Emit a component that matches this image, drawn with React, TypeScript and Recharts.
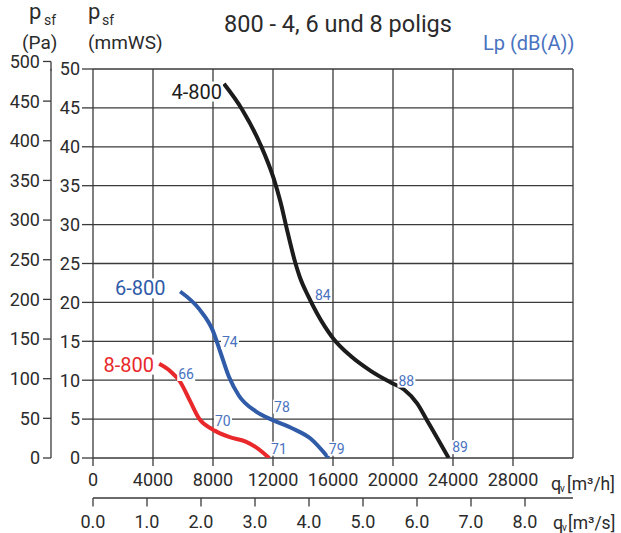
import React from "react";
import { ComposedChart, Line, Scatter, XAxis, YAxis, CartesianGrid } from "recharts";

// axis ticks
const FLOW_H_TICKS = [0, 4000, 8000, 12000, 16000, 20000, 24000, 28000, 32000];
const FLOW_S_TICKS = [0, 1, 2, 3, 4, 5, 6, 7, 8];
const MMWS_TICKS = [0, 5, 10, 15, 20, 25, 30, 35, 40, 45, 50];
const PA_TICKS = [0, 50, 100, 150, 200, 250, 300, 350, 400, 450, 500];

// 4-800 (m3/h, mmWS)
const flow4 = [8730, 9940, 11160, 12050, 12500, 12950, 13500, 13780, 14350, 14930, 16000, 17180, 18510, 19850, 20730, 21620, 22280, 22940, 23710];
const press4 = [48.1, 44.8, 40.3, 35.9, 32.9, 29.2, 25.0, 23.3, 20.8, 18.6, 15.4, 13.1, 11.2, 9.7, 8.8, 7.0, 4.8, 2.6, 0];

// 6-800
const flow6 = [5810, 7100, 7960, 8510, 9070, 9730, 10850, 11950, 13300, 14500, 15700];
const press6 = [21.4, 19.1, 16.5, 13.5, 10.4, 8.0, 6.0, 4.9, 3.8, 2.5, 0];

// 8-800
const flow8 = [4410, 5190, 5810, 6450, 7100, 7960, 9070, 10180, 10850, 11750];
const press8 = [12.1, 11.1, 9.8, 7.4, 5.0, 3.7, 2.7, 2.1, 1.4, 0];

// curve names
const curveNames = ["4-800", "6-800", "8-800"];
const nameFlow = [8600, 4840, 4060];
const namePress = [47.1, 21.8, 12.0];

// sound pressure level marks Lp dB(A)
const lpText = ["84", "74", "66", "78", "70", "71", "79", "88", "89"];
const lpFlow = [14800, 8600, 5680, 12070, 8130, 11870, 15720, 20360, 23950];
const lpPress = [21.0, 14.9, 10.8, 6.6, 4.7, 1.2, 1.2, 9.95, 1.4];

const M3H_PER_M3S = 3600;

const FONT = "Roboto, 'DejaVu Sans', sans-serif";
const TEXT = "#2b2b2b";
const GRID = "#3a3a3a";
const BLACK = "#1c1c1c";
const BLUE = "#2f5ba8";
const RED = "#e8282b";
const LABEL_BLUE = "#4a72c0";
const NAME_COLORS = [BLACK, BLUE, RED];

const zip = (xs: number[], ys: number[]) => xs.map((x, i) => ({ x, y: ys[i] }));

const curve4 = zip(flow4, press4);
const curve6 = zip(flow6, press6);
const curve8 = zip(flow8, press8);
const names = curveNames.map((t, i) => ({ x: nameFlow[i], y: namePress[i], t, c: NAME_COLORS[i] }));
const lpMarks = lpText.map((t, i) => ({ x: lpFlow[i], y: lpPress[i], t }));

const tickStyle = { fontFamily: FONT, fontSize: 18, fill: TEXT };

const PaTick = (props: any) => {
  const { x, y, payload } = props;
  return (
    <g>
      <text x={x} y={y} dy="0.355em" textAnchor="end" fontFamily={FONT} fontSize={18} fill={TEXT}>
        {payload.value}
      </text>
      {payload.value === 500 && (
        <line x1={x + 11} x2={x + 11} y1={y} y2={y + 9} stroke={GRID} strokeWidth={1.3} />
      )}
    </g>
  );
};

// m3/h ticks: own tick line so the right border gets none
const FlowTick = (props: any) => {
  const { x, y, payload } = props;
  if (payload.value === 32000) return null;
  return (
    <g>
      <line x1={x} x2={x} y1={y - 15} y2={y - 7} stroke={GRID} strokeWidth={1.3} />
      <text x={x} y={y} dy="0.71em" textAnchor="middle" fontFamily={FONT} fontSize={18} fill={TEXT}>
        {payload.value}
      </text>
    </g>
  );
};

const NameShape = (p: any) => {
  const w = p.payload.t.length * 20 * 0.52;
  return (
    <g>
      <rect x={p.cx - w - 1} y={p.cy - 10} width={w + 2} height={20} fill="#fff" />
      <text x={p.cx} y={p.cy} dy="0.355em" textAnchor="end" fontFamily={FONT} fontSize={20} fill={p.payload.c}>
        {p.payload.t}
      </text>
    </g>
  );
};

const LpShape = (p: any) => (
  <g>
    <rect x={p.cx - 1} y={p.cy - 7} width={18} height={14} fill="#fff" />
    <text x={p.cx} y={p.cy} dy="0.355em" textAnchor="start" fontFamily={FONT} fontSize={14} fill={LABEL_BLUE}>
      {p.payload.t}
    </text>
  </g>
);

export default function App() {
  return (
    <div style={{ position: "absolute", left: 0, top: 0, width: 621, height: 533, background: "#fff" }}>
      <ComposedChart width={621} height={533} margin={{ top: 69, right: 48, bottom: 0, left: 0 }}>
        <CartesianGrid xAxisId="h" yAxisId="mm" stroke={GRID} strokeWidth={1.3} />
        <XAxis xAxisId="h" type="number" dataKey="x" domain={[0, 32000]} ticks={FLOW_H_TICKS} interval={0}
          allowDataOverflow axisLine={false} tickLine={false} tickSize={8} tickMargin={7} height={40}
          tick={<FlowTick />} />
        {/* m3/s scale sits on the same flow domain, 1 m3/s = 3600 m3/h */}
        <XAxis xAxisId="s" type="number" dataKey="x" domain={[0, 32000]}
          ticks={FLOW_S_TICKS.map((v) => v * M3H_PER_M3S)} interval={0}
          allowDataOverflow tickSize={8.5} tickMargin={9} height={35}
          axisLine={{ stroke: GRID, strokeWidth: 1.3 }} tickLine={{ stroke: GRID, strokeWidth: 1.3 }}
          tick={tickStyle} tickFormatter={(v) => (Number(v) / M3H_PER_M3S).toFixed(1)} />
        <YAxis yAxisId="mm" type="number" dataKey="y" domain={[0, 50]} ticks={MMWS_TICKS} interval={0}
          allowDataOverflow axisLine={false} tickSize={11} tickMargin={2} width={42}
          tickLine={{ stroke: GRID, strokeWidth: 1.3 }} tick={tickStyle} />
        <YAxis yAxisId="pa" type="number" domain={[0, 490.5]} ticks={PA_TICKS} interval={0}
          allowDataOverflow tickSize={8} tickMargin={3} width={51}
          axisLine={{ stroke: GRID, strokeWidth: 1.3 }} tickLine={{ stroke: GRID, strokeWidth: 1.3 }}
          tick={<PaTick />} />
        <Scatter xAxisId="h" yAxisId="mm" data={names} shape={<NameShape />} isAnimationActive={false} />
        <Scatter xAxisId="h" yAxisId="mm" data={lpMarks} shape={<LpShape />} isAnimationActive={false} />
        <Line xAxisId="h" yAxisId="mm" data={curve4} dataKey="y" type="monotone" stroke={BLACK}
          strokeWidth={4} dot={false} isAnimationActive={false} />
        <Line xAxisId="h" yAxisId="mm" data={curve6} dataKey="y" type="monotone" stroke={BLUE}
          strokeWidth={4} dot={false} isAnimationActive={false} />
        <Line xAxisId="h" yAxisId="mm" data={curve8} dataKey="y" type="monotone" stroke={RED}
          strokeWidth={4} dot={false} isAnimationActive={false} />
      </ComposedChart>
      <svg width={621} height={533} style={{ position: "absolute", left: 0, top: 0, pointerEvents: "none" }}
        fontFamily={FONT} fill={TEXT}>
        <text x={338} y={32} fontSize={23.5} textAnchor="middle">800 - 4, 6 und 8 poligs</text>
        <text x={29} y={19} fontSize={22}>p</text>
        <text x={44} y={25} fontSize={14}>sf</text>
        <text x={22} y={49} fontSize={19}>(Pa)</text>
        <text x={88} y={19} fontSize={22}>p</text>
        <text x={102} y={25} fontSize={14}>sf</text>
        <text x={88} y={49} fontSize={19}>(mmWS)</text>
        <text x={483} y={50} fontSize={20} fill={LABEL_BLUE}>Lp (dB(A))</text>
        <text x={551} y={490} fontSize={18}>q</text>
        <text x={560} y={492} fontSize={10}>v</text>
        <text x={567} y={490} fontSize={17.5}>[m³/h]</text>
        <text x={553} y={529} fontSize={18}>q</text>
        <text x={562} y={531} fontSize={10}>v</text>
        <text x={568} y={529} fontSize={17.5}>[m³/s]</text>
      </svg>
    </div>
  );
}
